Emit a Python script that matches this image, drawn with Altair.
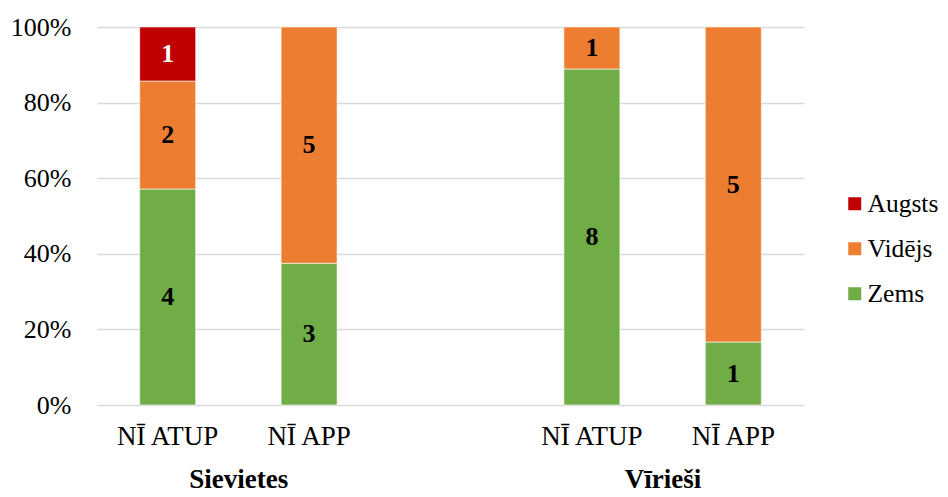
import altair as alt
import pandas as pd

groups = ["Sievietes", "Sievietes", "Vīrieši", "Vīrieši"]
categories = ["NĪ ATUP", "NĪ APP", "NĪ ATUP", "NĪ APP"]
zems = [4, 3, 8, 1]
videjs = [2, 5, 1, 5]
augsts = [1, 0, 0, 0]
levels = ["Augsts", "Vidējs", "Zems"]
colors = ["#C00000", "#ED7D31", "#70AD47"]
y_ticks = [0, 0.2, 0.4, 0.6, 0.8, 1.0]
group_names = ["Sievietes", "Vīrieši"]

rows = []
for g, c, z, v, a in zip(groups, categories, zems, videjs, augsts):
    key = g + "|" + c
    for lvl, val, order in [("Zems", z, 0), ("Vidējs", v, 1), ("Augsts", a, 2)]:
        rows.append(dict(key=key, level=lvl, value=val, order=order))
df = pd.DataFrame(rows)

domain = [groups[0] + "|" + categories[0], groups[1] + "|" + categories[1], "gap|",
          groups[2] + "|" + categories[2], groups[3] + "|" + categories[3]]
gdf = pd.DataFrame({"key": [domain[0], domain[3]], "label": group_names})

FONT = "Liberation Serif, Times New Roman, serif"
xscale = alt.Scale(domain=domain, paddingInner=0.604, paddingOuter=0.302)
xaxis = alt.Axis(labelExpr="split(datum.label,'|')[1]", ticks=False, domain=False,
                 labelFont=FONT, labelFontSize=27, labelColor="black", labelPadding=18,
                 labelAngle=0, title=None, grid=False)

base = alt.Chart(df).transform_filter("datum.value > 0").transform_stack(
    stack="value", groupby=["key"], sort=[alt.SortField("order", "ascending")],
    as_=["y0", "y1"], offset="normalize"
).transform_calculate(mid="(datum.y0 + datum.y1) / 2")

bars = base.mark_bar(stroke="white", strokeWidth=0.6).encode(
    x=alt.X("key:N", scale=xscale, axis=xaxis),
    y=alt.Y("y0:Q", scale=alt.Scale(domain=[0, 1], nice=False),
            axis=alt.Axis(values=y_ticks, format=".0%", title=None, domain=False, ticks=False,
                          labelFont=FONT, labelFontSize=26, labelColor="black", labelPadding=26,
                          gridColor="#D9D9D9", gridWidth=1.3)),
    y2="y1:Q",
    color=alt.Color("level:N", scale=alt.Scale(domain=levels, range=colors),
                    legend=alt.Legend(title=None, orient="none", legendX=745, legendY=164,
                                      padding=0, symbolType="square", symbolSize=169,
                                      symbolStrokeWidth=0,
                                      labelFont=FONT, labelFontSize=25.5, labelColor="black",
                                      labelOffset=0, rowPadding=18)),
)

labels = base.mark_text(font=FONT, fontSize=26, fontWeight="bold", baseline="middle").encode(
    x=alt.X("key:N", scale=xscale),
    y=alt.Y("mid:Q"),
    text=alt.Text("value:Q"),
    color=alt.condition("datum.level == 'Augsts'", alt.value("white"), alt.value("black")),
)

glabels = alt.Chart(gdf).mark_text(font=FONT, fontSize=27, fontWeight="bold", dx=71,
                                    baseline="alphabetic").encode(
    x=alt.X("key:N", scale=xscale),
    y=alt.value(461),
    text="label:N",
)

chart = alt.layer(bars, labels, glabels).properties(
    width=707, height=378,
    autosize=alt.AutoSizeParams(type="none"),
    padding={"left": 89, "top": 19, "right": 136, "bottom": 88},
).configure_view(stroke=None)

chart.save("out.html", embed_options={"renderer": "svg", "actions": False})
